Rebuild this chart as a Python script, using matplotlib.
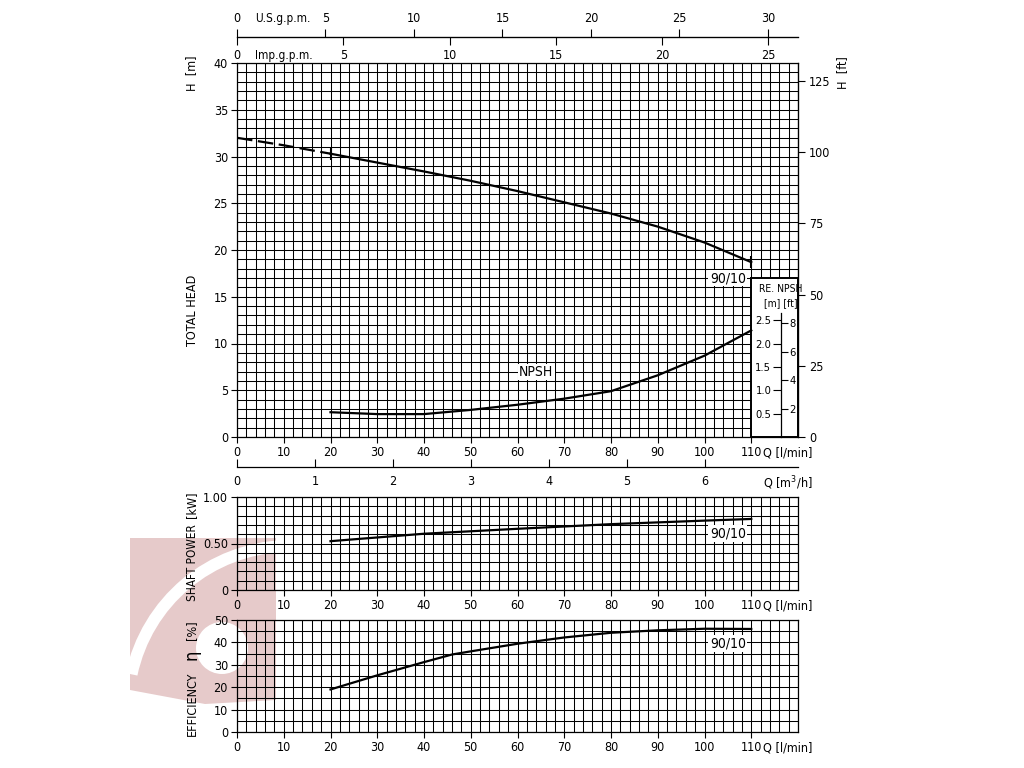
import numpy as np
import matplotlib
matplotlib.use('Agg')
import matplotlib.pyplot as plt
import matplotlib.patches as mpatches
import matplotlib.transforms as mtransforms
from matplotlib import font_manager as fm

# narrow font for the drawing-office look, whichever is installed
names = {f.name for f in fm.fontManager.ttflist}
condensed = [f for f in fm.fontManager.ttflist
             if f.name == 'DejaVu Sans' and str(f.stretch) in ('condensed', 'semi-condensed')]
if 'Liberation Sans Narrow' in names:
    plt.rcParams['font.family'] = ['Liberation Sans Narrow', 'DejaVu Sans']
elif condensed:
    plt.rcParams['font.family'] = ['DejaVu Sans']
    plt.rcParams['font.stretch'] = 'condensed'
else:
    plt.rcParams['font.family'] = ['Roboto', 'DejaVu Sans']
plt.rcParams['font.size'] = 9

# pump curve 90/10
q_head = [0, 10, 20, 30, 40, 50, 60, 70, 80, 90, 100, 110]
head = [32.0, 31.2, 30.3, 29.35, 28.4, 27.4, 26.3, 25.1, 23.9, 22.5, 20.8, 18.7]

q_npsh = [20, 30, 40, 50, 60, 70, 80, 90, 100, 110]
npsh = [0.53, 0.49, 0.49, 0.58, 0.69, 0.82, 0.98, 1.32, 1.74, 2.28]

q_power = [20, 40, 60, 80, 100, 110]
power = [0.525, 0.605, 0.658, 0.708, 0.746, 0.764]

q_eff = [20, 30, 40, 46, 50, 60, 70, 80, 90, 100, 110]
eff = [19.0, 25.3, 31.2, 34.6, 36.0, 39.4, 42.2, 44.3, 45.4, 46.1, 46.0]

curve_name = '90/10'
us_ticks = [0, 5, 10, 15, 20, 25, 30]
imp_ticks = [0, 5, 10, 15, 20, 25]
m3h_ticks = [0, 1, 2, 3, 4, 5, 6]
ft_ticks = [0, 25, 50, 75, 100, 125]
npsh_m_ticks = [0.5, 1.0, 1.5, 2.0, 2.5]
npsh_ft_ticks = [2, 4, 6, 8]

US_GAL = 3.78541
IMP_GAL = 4.54609
M3H = 1000 / 60.
FT = 0.3048
NPSH_SCALE = 5.  # 1 m NPSH = 5 m on head scale

W, H = 1024, 768
fig = plt.figure(figsize=(10.24, 7.68), dpi=100)
pix = mtransforms.Affine2D().scale(1. / W, 1. / H) + fig.transFigure


def px_axes(l, t, r, b):
    return fig.add_axes([l / W, 1 - b / H, (r - l) / W, (b - t) / H])


def ftext(x, y, s, **kw):
    fig.text(x / W, 1 - y / H, s, ha='center', va='center', **kw)


# watermark logo (faint)
pink = '#e6caca'
def P(x, y):
    return (x, H - y)
fig.add_artist(mpatches.Polygon([P(130, 538), P(276, 538), P(276, 700), P(205, 704), P(130, 690)],
                                closed=True, fc=pink, ec='none', transform=pix, zorder=-5))
fig.add_artist(mpatches.Wedge(P(290, 708), 168, 92, 168, width=12, fc='white', ec='none',
                              transform=pix, zorder=-4))
fig.add_artist(mpatches.Circle(P(222, 648), 26, fc='white', ec='none', transform=pix, zorder=-4))

ax = px_axes(237, 63, 798, 437)
axp = px_axes(237, 497, 798, 590)
axe = px_axes(237, 620, 798, 732)


def grid_style(a, ymax, ystep, yticks, ylabels):
    a.set_facecolor('none')
    a.set_xlim(0, 120)
    a.set_ylim(0, ymax)
    a.set_xticks(np.arange(0, 111, 10))
    a.set_xticks(np.arange(0, 121, 2), minor=True)
    a.set_yticks(yticks)
    a.set_yticklabels(ylabels)
    a.set_yticks(np.arange(0, ymax + 1e-9, ystep), minor=True)
    a.set_axisbelow(True)
    a.grid(True, which='both', color='black', lw=0.75)
    a.tick_params(which='minor', length=0)
    a.tick_params(which='major', length=4, width=0.8, pad=2.5, labelsize=9)
    for s in a.spines.values():
        s.set_linewidth(0.9)
    a.annotate('Q [l/min]', xy=(117.8, 0), xycoords=('data', 'axes fraction'),
               xytext=(0, -6.5), textcoords='offset points', ha='center', va='top', fontsize=9)


grid_style(ax, 40, 1, np.arange(0, 41, 5), [str(v) for v in range(0, 41, 5)])
grid_style(axp, 1.0, 0.1, [0, 0.5, 1.0], ['0', '0.50', '1.00'])
grid_style(axe, 50, 5, np.arange(0, 51, 10), [str(v) for v in range(0, 51, 10)])

# head curve
ax.plot(q_head[:3], head[:3], color='black', lw=1.6, ls=(0, (7, 2.5)))
ax.plot(q_head[2:], head[2:], color='black', lw=1.6)
ax.plot([q_head[2], q_head[-1]], [head[2], head[-1]], ls='none', marker='|', ms=8, mew=1.5,
        color='black')
ax.text(105, 17.0, curve_name, ha='center', va='center', fontsize=10,
        bbox=dict(fc='white', ec='none', pad=1))

# NPSH box
ax.add_patch(mpatches.Rectangle((110, 0), 10, 17, fc='white', ec='black', lw=1.4, zorder=1.2,
                                clip_on=False))
ax.text(116.4, 15.8, 'RE. NPSH', ha='center', va='center', fontsize=7.5, zorder=3)
ax.text(116.4, 14.35, '[m] [ft]', ha='center', va='center', fontsize=7.5, zorder=3)

axn = ax.twinx()
axn.set_ylim(0, 40 / NPSH_SCALE)
axn.set_yticks([])
for s in axn.spines.values():
    s.set_visible(False)
axn.plot(q_npsh, npsh, color='black', lw=1.6)
axn.text(64, 1.39, 'NPSH', ha='center', va='center', fontsize=10,
         bbox=dict(fc='white', ec='none', pad=1))

npsh_loc = (781 - 237) / 561.
sec_m = ax.secondary_yaxis(npsh_loc, functions=(lambda h: h / NPSH_SCALE, lambda n: n * NPSH_SCALE))
sec_m.set_zorder(5)
sec_m.set_alignment('left')
sec_m.set_yticks(npsh_m_ticks)
sec_m.set_yticklabels(['%.1f' % v for v in npsh_m_ticks])
sec_m.tick_params(length=6, width=0.8, pad=1, labelsize=8)
sec_m.spines['left'].set_bounds(0, 2.66)
sec_m.spines['left'].set_linewidth(0.9)
sec_f = ax.secondary_yaxis(npsh_loc, functions=(lambda h: h / NPSH_SCALE / FT,
                                                 lambda f: f * FT * NPSH_SCALE))
sec_f.set_zorder(5)
sec_f.set_yticks(npsh_ft_ticks)
sec_f.tick_params(length=5, width=0.8, pad=1, labelsize=8)
sec_f.spines['right'].set_visible(False)

# right feet scale
sec_ft = ax.secondary_yaxis('right', functions=(lambda m: m / FT, lambda f: f * FT))
sec_ft.set_yticks(ft_ticks)
sec_ft.tick_params(length=5, width=0.8, pad=3, labelsize=9)

# top gallon scales
top_loc = 1 + 26 / 374.
sec_us = ax.secondary_xaxis(top_loc, functions=(lambda q: q / US_GAL, lambda g: g * US_GAL))
sec_us.set_xticks(us_ticks)
sec_us.tick_params(length=6, width=0.8, pad=2.5, labelsize=9)
sec_us.spines['top'].set_linewidth(0.9)
sec_imp = ax.secondary_xaxis(top_loc, functions=(lambda q: q / IMP_GAL, lambda g: g * IMP_GAL))
sec_imp.set_alignment('bottom')
sec_imp.set_xticks(imp_ticks)
sec_imp.tick_params(length=6, width=0.8, pad=2.5, labelsize=9)
ax.annotate('U.S.g.p.m.', xy=(3.8, top_loc), xycoords=('data', 'axes fraction'),
            xytext=(0, 8.5), textcoords='offset points', ha='left', va='bottom', fontsize=8.5)
ax.annotate('Imp.g.p.m.', xy=(3.8, top_loc), xycoords=('data', 'axes fraction'),
            xytext=(0, -8.5), textcoords='offset points', ha='left', va='top', fontsize=8.5)

# m3/h scale
m3_loc = -30 / 374.
sec_m3 = ax.secondary_xaxis(m3_loc, functions=(lambda q: q / M3H, lambda v: v * M3H))
sec_m3.set_xticks(m3h_ticks)
sec_m3.tick_params(direction='in', length=6, width=0.8, pad=6, labelsize=9)
sec_m3.spines['bottom'].set_linewidth(0.9)
ax.annotate('Q [m$^3$/h]', xy=(117.8, m3_loc), xycoords=('data', 'axes fraction'),
            xytext=(0, -5), textcoords='offset points', ha='center', va='top', fontsize=9)

# shaft power
axp.plot(q_power, power, color='black', lw=1.6)
axp.text(105, 0.61, curve_name, ha='center', va='center', fontsize=10,
         bbox=dict(fc='white', ec='none', pad=1))

# efficiency
axe.plot(q_eff, eff, color='black', lw=1.6)
axe.text(105, 39.5, curve_name, ha='center', va='center', fontsize=10,
         bbox=dict(fc='white', ec='none', pad=1))

# side labels
ftext(192, 73, 'H  [m]', rotation=90, fontsize=9)
ftext(192, 310, 'TOTAL HEAD', rotation=90, fontsize=9)
ftext(843, 73, 'H  [ft]', rotation=90, fontsize=9)
ftext(192, 505, '[kW]', rotation=90, fontsize=9)
ftext(192, 563, 'SHAFT POWER', rotation=90, fontsize=8.5)
ftext(192, 630, '[%]', rotation=90, fontsize=9)
ftext(192, 655, 'η', rotation=90, fontsize=13)
ftext(192, 704, 'EFFICIENCY', rotation=90, fontsize=9)

fig.savefig('out.png', dpi=100)
